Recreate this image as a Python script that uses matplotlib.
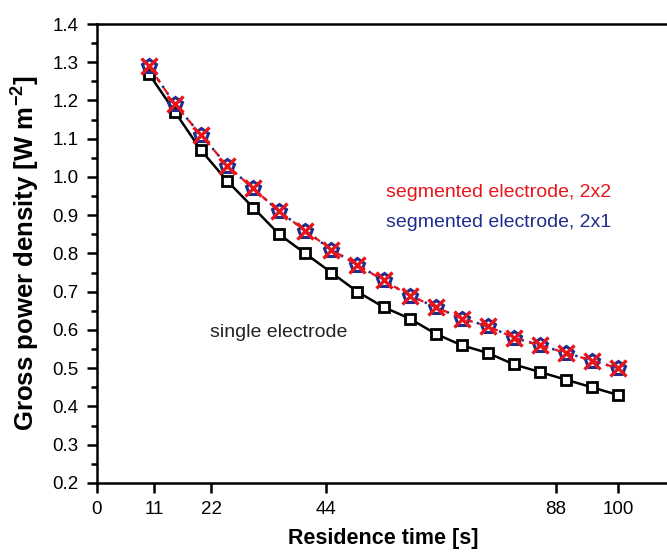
import matplotlib
matplotlib.use("Agg")
import matplotlib.pyplot as plt
from matplotlib.ticker import MultipleLocator

plt.rcParams['font.family'] = ['Liberation Sans', 'DejaVu Sans']
plt.rcParams['mathtext.fontset'] = 'custom'
plt.rcParams['mathtext.bf'] = 'Liberation Sans:bold'
plt.rcParams['mathtext.rm'] = 'Liberation Sans'

# Residence time [s]
residence_time = [10, 15, 20, 25, 30, 35, 40, 45, 50, 55, 60, 65, 70, 75, 80, 85, 90, 95, 100]

# Gross power density [W m^-2]
single_electrode = [1.27, 1.17, 1.07, 0.99, 0.92, 0.85, 0.80, 0.75, 0.70, 0.66,
                    0.63, 0.59, 0.56, 0.54, 0.51, 0.49, 0.47, 0.45, 0.43]
segmented_2x2 = [1.29, 1.19, 1.11, 1.03, 0.97, 0.91, 0.86, 0.81, 0.77, 0.73,
                 0.69, 0.66, 0.63, 0.61, 0.58, 0.56, 0.54, 0.52, 0.50]
segmented_2x1 = [1.29, 1.19, 1.11, 1.03, 0.97, 0.91, 0.86, 0.81, 0.77, 0.73,
                 0.69, 0.66, 0.63, 0.61, 0.58, 0.56, 0.54, 0.52, 0.50]

x_ticks = [0, 11, 22, 44, 88, 100]

fig = plt.figure(figsize=(6.67, 5.53), dpi=100)
ax = fig.add_axes([0.145, 0.1266, 0.86, 0.83])

red = '#e8151b'
navy = '#1f2e8c'

ax.plot(residence_time, single_electrode, color='black', lw=1.8, marker='s',
        markersize=7.8, markerfacecolor='white', markeredgecolor='black',
        markeredgewidth=2.0, zorder=2)
ax.plot(residence_time, segmented_2x1, color=navy, lw=1.8, ls=(0, (1, 2.2)),
        marker='p', markersize=10, markerfacecolor='none', markeredgecolor=navy,
        markeredgewidth=2.2, zorder=3)
ax.plot(residence_time, segmented_2x2, color=red, lw=1.6, ls=(0, (3, 3)),
        marker='x', markersize=11, markeredgecolor=red,
        markeredgewidth=2.4, zorder=4)

ax.text(0.504, 0.633, 'segmented electrode, 2x2', color=red, fontsize=14,
        transform=ax.transAxes, va='center', ha='left')
ax.text(0.504, 0.567, 'segmented electrode, 2x1', color=navy, fontsize=14,
        transform=ax.transAxes, va='center', ha='left')
ax.text(0.198, 0.327, 'single electrode', color='#222222', fontsize=14,
        transform=ax.transAxes, va='center', ha='left')

ax.set_xlim(0, 110)
ax.set_ylim(0.2, 1.4)
ax.set_xticks(x_ticks)
ax.yaxis.set_major_locator(MultipleLocator(0.1))
ax.yaxis.set_minor_locator(MultipleLocator(0.05))
ax.set_yticklabels([f'{v:.1f}' for v in ax.get_yticks()])

for side in ('left', 'bottom', 'top', 'right'):
    ax.spines[side].set_linewidth(1.8)
ax.spines['right'].set_visible(False)

ax.tick_params(axis='both', which='major', direction='out', length=7, width=1.8,
               labelsize=13.5, pad=6)
ax.tick_params(axis='y', which='minor', direction='out', length=4, width=1.8)
ax.tick_params(top=False, right=False)

ax.set_xlabel('Residence time [s]', fontsize=15.5, fontweight='bold', labelpad=7)
ax.set_ylabel(r'Gross power density [W m$^{\mathbf{-2}}$]', fontsize=18.5,
              fontweight='bold', labelpad=8)

fig.savefig('out.png', dpi=100)
